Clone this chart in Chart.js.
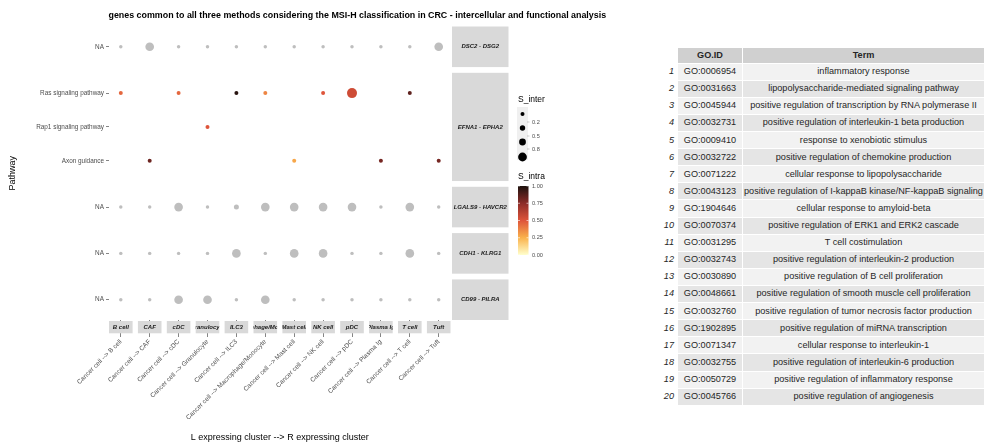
<!DOCTYPE html>
<html>
<head>
<meta charset="utf-8">
<script src="https://cdn.jsdelivr.net/npm/chart.js@4.4.1/dist/chart.umd.min.js"></script>
<style>
body { margin: 0; background: #fff; font-family: "Liberation Sans", Arial, sans-serif; }
#wrap { position: relative; width: 990px; height: 443px; overflow: hidden; }
#plot { position: absolute; left: 0; top: 0; }
#go { position: absolute; left: 660px; top: 47px; border-collapse: collapse; table-layout: fixed; font-size: 9.15px; color: #262626; }
#go td, #go th { border: 1px solid #fff; padding: 0; white-space: nowrap; text-align: center; line-height: 1; }
#go th { background: #d0d0d0; font-weight: bold; }
#go th.rh, #go td.rh { background: #fff; text-align: right; font-style: italic; padding-right: 3px; }
#go tr.head { height: 15.6px; }
#go tbody tr { height: 17.12px; }
#go tbody tr:nth-child(odd) td { background: #f2f2f2; }
#go tbody tr:nth-child(even) td { background: #e5e5e5; }
#go tbody td.rh { background: #fff !important; }
</style>
</head>
<body>
<div id="wrap">
  <canvas id="plot" width="660" height="443"></canvas>
  <table id="go">
    <colgroup><col style="width:17px"><col style="width:65px"><col style="width:242px"></colgroup>
    <thead><tr class="head"><th class="rh"></th><th>GO.ID</th><th>Term</th></tr></thead>
    <tbody id="gobody"></tbody>
  </table>
</div>
<script>
var FONT = "Liberation Sans";

// columns (receiver cell types)
var cellTypes = ["B cell", "CAF", "cDC", "Granulocyte", "ILC3", "Macrophage/Monocyte",
                 "Mast cell", "NK cell", "pDC", "Plasma Ig", "T cell", "Tuft"];
var xTickLabels = cellTypes.map(function (c) { return "Cancer cell --> " + c; });

// row facets (ligand - receptor pairs) and their pathways
var lrPairs = ["DSC2 - DSG2", "EFNA1 - EPHA2", "LGALS9 - HAVCR2", "CDH1 - KLRG1", "CD99 - PILRA"];
var pathwaysByPair = [["NA"], ["Ras signaling pathway", "Rap1 signaling pathway", "Axon guidance"], ["NA"], ["NA"], ["NA"]];

// S_inter (dot size), one value per cell type, null = no dot
var interDSC2   = [0.12, 0.75, 0.12, 0.12, 0.12, 0.12, 0.12, 0.12, 0.12, 0.12, 0.12, 0.75];
var interRas    = [0.16, null, 0.16, null, 0.16, 0.16, null, 0.16, 1.00, null, 0.16, null];
var interRap1   = [null, null, null, 0.16, null, null, null, null, null, null, null, null];
var interAxon   = [null, 0.16, null, null, null, null, 0.16, null, null, 0.16, null, 0.16];
var interLGALS9 = [0.12, 0.12, 0.75, 0.12, 0.25, 0.75, 0.75, 0.75, 0.75, 0.12, 0.75, 0.12];
var interCDH1   = [0.12, 0.12, 0.12, 0.12, 0.75, 0.12, 0.75, 0.75, 0.12, 0.12, 0.75, 0.12];
var interCD99   = [0.12, 0.12, 0.75, 0.75, 0.12, 0.75, 0.12, 0.12, 0.12, 0.12, 0.12, 0.12];

// S_intra (dot colour), null = NA (grey)
var intraDSC2   = [null, null, null, null, null, null, null, null, null, null, null, null];
var intraRas    = [0.45, null, 0.45, null, 0.97, 0.37, null, 0.50, 0.55, null, 0.85, null];
var intraRap1   = [null, null, null, 0.50, null, null, null, null, null, null, null, null];
var intraAxon   = [null, 0.82, null, null, null, null, 0.28, null, null, 0.80, null, 0.80];
var intraLGALS9 = [null, null, null, null, null, null, null, null, null, null, null, null];
var intraCDH1   = [null, null, null, null, null, null, null, null, null, null, null, null];
var intraCD99   = [null, null, null, null, null, null, null, null, null, null, null, null];

var interRows = [interDSC2, interRas, interRap1, interAxon, interLGALS9, interCDH1, interCD99];
var intraRows = [intraDSC2, intraRas, intraRap1, intraAxon, intraLGALS9, intraCDH1, intraCD99];

// legend keys
var sizeKeyValues = [0.16, 0.29, 0.46, 0.77];
var sizeKeyLabels = ["0.2", "0.5", "0.8"];
var colorKeyLabels = ["1.00", "0.75", "0.50", "0.25", "0.00"];

// GO table
var goIds = ["GO:0006954", "GO:0031663", "GO:0045944", "GO:0032731", "GO:0009410", "GO:0032722", "GO:0071222",
             "GO:0043123", "GO:1904646", "GO:0070374", "GO:0031295", "GO:0032743", "GO:0030890", "GO:0048661",
             "GO:0032760", "GO:1902895", "GO:0071347", "GO:0032755", "GO:0050729", "GO:0045766"];
var goTerms = ["inflammatory response",
               "lipopolysaccharide-mediated signaling pathway",
               "positive regulation of transcription by RNA polymerase II",
               "positive regulation of interleukin-1 beta production",
               "response to xenobiotic stimulus",
               "positive regulation of chemokine production",
               "cellular response to lipopolysaccharide",
               "positive regulation of I-kappaB kinase/NF-kappaB signaling",
               "cellular response to amyloid-beta",
               "positive regulation of ERK1 and ERK2 cascade",
               "T cell costimulation",
               "positive regulation of interleukin-2 production",
               "positive regulation of B cell proliferation",
               "positive regulation of smooth muscle cell proliferation",
               "positive regulation of tumor necrosis factor production",
               "positive regulation of miRNA transcription",
               "cellular response to interleukin-1",
               "positive regulation of interleukin-6 production",
               "positive regulation of inflammatory response",
               "positive regulation of angiogenesis"];

var body = document.getElementById("gobody");
goIds.forEach(function (id, i) {
  var tr = document.createElement("tr");
  tr.innerHTML = '<td class="rh">' + (i + 1) + '</td><td>' + id + '</td><td>' + goTerms[i] + '</td>';
  body.appendChild(tr);
});

// facet layout (ggplot style: 0.6 expansion around discrete values, small gap between panels)
var EXPAND = 0.6, GAP_X = 0.27, GAP_Y = 0.17;
var colPos = cellTypes.map(function (c, i) { return EXPAND + i * (2 * EXPAND + GAP_X); });
var xMax = cellTypes.length * 2 * EXPAND + (cellTypes.length - 1) * GAP_X;

var rowPos = [], rowLabels = [], facets = [];
var cursor = 0;
lrPairs.forEach(function (p, f) {
  var top = cursor;
  pathwaysByPair[f].forEach(function (pw, k) { rowPos.push(top + EXPAND + k); rowLabels.push(pw); });
  var bottom = top + 2 * EXPAND + pathwaysByPair[f].length - 1;
  facets.push({ top: top, bottom: bottom, label: p });
  cursor = bottom + GAP_Y;
});
var yMax = cursor - GAP_Y;

function radiusFor(s) { return 5 * Math.sqrt(s); }

var stops = [[0, [255, 255, 204]], [0.25, [250, 178, 76]], [0.5, [222, 84, 58]], [0.75, [140, 44, 40]], [1, [28, 18, 14]]];
function colorFor(v) {
  if (v === null || v === undefined) return "#bebebe";
  for (var i = 1; i < stops.length; i++) {
    if (v <= stops[i][0]) {
      var a = stops[i - 1], b = stops[i], t = (v - a[0]) / (b[0] - a[0]);
      var c = a[1].map(function (x, k) { return Math.round(x + (b[1][k] - x) * t); });
      return "rgb(" + c.join(",") + ")";
    }
  }
  return "rgb(28,18,14)";
}

var points = [];
interRows.forEach(function (row, r) {
  row.forEach(function (s, c) {
    if (s === null) return;
    points.push({ x: colPos[c], y: rowPos[r], r: radiusFor(s), v: intraRows[r][c] });
  });
});

var decorations = {
  id: "decorations",
  afterDraw: function (chart) {
    var ctx = chart.ctx, area = chart.chartArea;
    var xs = chart.scales.x, ys = chart.scales.y;
    ctx.save();

    // title
    ctx.fillStyle = "#000";
    ctx.font = "bold 8.9px " + FONT;
    ctx.textAlign = "left";
    ctx.textBaseline = "middle";
    ctx.fillText("genes common to all three methods considering the MSI-H classification in CRC - intercellular and functional analysis", area.left - 0.5, 16);

    // right strips
    facets.forEach(function (f) {
      var y0 = ys.getPixelForValue(f.top), y1 = ys.getPixelForValue(f.bottom);
      ctx.fillStyle = "#d9d9d9";
      ctx.fillRect(area.right + 1.5, y0, 56.5, y1 - y0);
      ctx.fillStyle = "#1a1a1a";
      ctx.font = "italic bold 6px " + FONT;
      ctx.textAlign = "center";
      ctx.fillText(f.label, area.right + 1.5 + 56.5 / 2, (y0 + y1) / 2);
    });

    // bottom strips
    cellTypes.forEach(function (c, i) {
      var x0 = xs.getPixelForValue(colPos[i] - EXPAND), x1 = xs.getPixelForValue(colPos[i] + EXPAND);
      var y0 = area.bottom + 1, y1 = area.bottom + 13.3;
      ctx.fillStyle = "#d9d9d9";
      ctx.fillRect(x0, y0, x1 - x0, y1 - y0);
      ctx.save();
      ctx.beginPath();
      ctx.rect(x0, y0, x1 - x0, y1 - y0);
      ctx.clip();
      ctx.fillStyle = "#1a1a1a";
      ctx.font = "italic bold 6px " + FONT;
      ctx.textAlign = "center";
      ctx.fillText(c, (x0 + x1) / 2, (y0 + y1) / 2);
      ctx.restore();
    });

    // S_inter legend
    var lx = 518;
    ctx.fillStyle = "#000";
    ctx.font = "8.5px " + FONT;
    ctx.textAlign = "left";
    ctx.fillText("S_inter", lx, 100);
    ctx.fillStyle = "#f0f0f0";
    ctx.fillRect(lx - 1, 107, 11, 53);
    var keyY = [114, 128, 142, 157];
    sizeKeyValues.forEach(function (s, i) {
      ctx.beginPath();
      ctx.arc(lx + 4.5, keyY[i], radiusFor(s), 0, Math.PI * 2);
      ctx.fillStyle = "#000";
      ctx.fill();
    });
    ctx.font = "5.6px " + FONT;
    ctx.fillStyle = "#4d4d4d";
    ctx.strokeStyle = "#999";
    ctx.lineWidth = 0.5;
    var labY = [122, 136, 149];
    sizeKeyLabels.forEach(function (t, i) {
      ctx.fillText(t, lx + 14, labY[i]);
      ctx.beginPath();
      ctx.moveTo(lx + 9, labY[i]);
      ctx.lineTo(lx + 11.5, labY[i]);
      ctx.stroke();
    });

    // S_intra colourbar
    ctx.fillStyle = "#000";
    ctx.font = "8.5px " + FONT;
    ctx.fillText("S_intra", lx, 177);
    var by0 = 186, by1 = 255;
    var grad = ctx.createLinearGradient(0, by1, 0, by0);
    stops.forEach(function (s) { grad.addColorStop(s[0], "rgb(" + s[1].join(",") + ")"); });
    ctx.fillStyle = grad;
    ctx.fillRect(lx, by0, 10.5, by1 - by0);
    ctx.font = "5.6px " + FONT;
    ctx.strokeStyle = "#fff";
    ctx.lineWidth = 0.6;
    colorKeyLabels.forEach(function (t, i) {
      var y = by0 + (by1 - by0) * i / (colorKeyLabels.length - 1);
      ctx.fillStyle = "#4d4d4d";
      ctx.fillText(t, lx + 14, y);
      ctx.beginPath();
      ctx.moveTo(lx, y); ctx.lineTo(lx + 2, y);
      ctx.moveTo(lx + 8.5, y); ctx.lineTo(lx + 10.5, y);
      ctx.stroke();
    });

    ctx.restore();
  }
};

new Chart(document.getElementById("plot"), {
  type: "bubble",
  data: {
    datasets: [{
      data: points,
      backgroundColor: function (c) { return colorFor(c.raw ? c.raw.v : null); },
      borderWidth: 0,
      hoverRadius: 0,
      hoverBorderWidth: 0
    }]
  },
  options: {
    responsive: false,
    animation: false,
    events: [],
    layout: { padding: { top: 26.5, right: 660 - 450.5, left: 0, bottom: 0 } },
    plugins: { legend: { display: false }, tooltip: { enabled: false } },
    scales: {
      x: {
        type: "linear",
        min: 0,
        max: xMax,
        afterBuildTicks: function (s) { s.ticks = colPos.map(function (v) { return { value: v }; }); },
        afterFit: function (s) { s.height = 123; },
        grid: { drawOnChartArea: false, drawTicks: true, tickLength: 17, color: "#333", lineWidth: 0.6 },
        border: { display: false },
        ticks: {
          autoSkip: false,
          minRotation: 45,
          maxRotation: 45,
          padding: 1,
          color: "#4d4d4d",
          font: { family: FONT, size: 6.5 },
          callback: function (v, i) { return xTickLabels[i]; }
        },
        title: {
          display: true,
          text: "L expressing cluster --> R expressing cluster",
          color: "#000",
          font: { family: FONT, size: 9 },
          padding: { top: 0, bottom: 0.5 }
        }
      },
      y: {
        type: "linear",
        reverse: true,
        min: 0,
        max: yMax,
        afterBuildTicks: function (s) { s.ticks = rowPos.map(function (v) { return { value: v }; }); },
        afterFit: function (s) { s.width = 109; },
        grid: { drawOnChartArea: false, drawTicks: true, tickLength: 3, color: "#333", lineWidth: 0.6 },
        border: { display: false },
        ticks: {
          autoSkip: false,
          padding: 2,
          color: "#4d4d4d",
          font: { family: FONT, size: 6.4 },
          callback: function (v, i) { return rowLabels[i]; }
        },
        title: {
          display: true,
          text: "Pathway",
          color: "#000",
          font: { family: FONT, size: 9 },
          padding: { top: 7, bottom: 0 }
        }
      }
    }
  },
  plugins: [decorations]
});
</script>
</body>
</html>
